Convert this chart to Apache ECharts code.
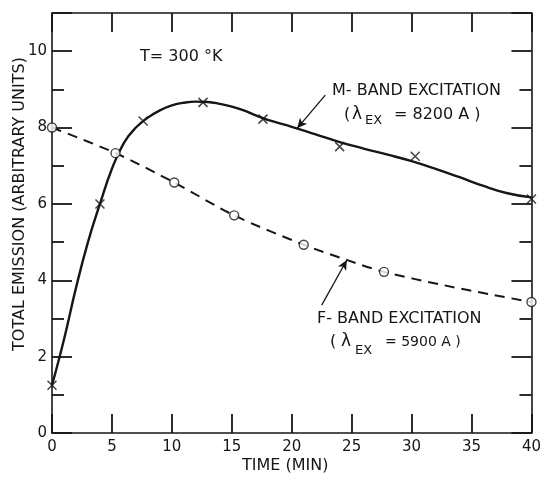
<!DOCTYPE html>
<html><head><meta charset="utf-8">
<script src="https://cdn.jsdelivr.net/npm/echarts@6/dist/echarts.min.js"></script>
<style>html,body{margin:0;padding:0;background:#fff}#c{width:544px;height:478px}</style>
</head><body><div id="c"></div>
<script>
// Data
const xTickLabels = ['0','5','10','15','20','25','30','35','40'];
const yTickLabels = ['0','2','4','6','8','10'];
// M-band excitation: measured points (crosses)
const mBandPoints = [[0,1.25],[4,6.0],[7.6,8.17],[12.6,8.66],[17.6,8.22],[24,7.5],[30.3,7.25],[40,6.13]];
// M-band fitted curve (solid)
const mBandCurve = [[0,1.25],[1,2.45],[2,3.8],[3,5.0],[4,6.0],[5,6.92],[6,7.6],[7,8.0],[8,8.26],[9,8.45],[10,8.58],[11,8.65],[12,8.68],[13,8.67],[14,8.62],[15,8.55],[16,8.45],[17,8.32],[18,8.2],[20,8.02],[22,7.82],[24,7.62],[26,7.45],[28,7.29],[30,7.12],[32,6.92],[34,6.7],[36,6.47],[38,6.28],[40,6.17]];
// F-band excitation: measured points (circles)
const fBandPoints = [[0,8.0],[5.3,7.33],[10.2,6.56],[15.2,5.7],[21,4.93],[27.7,4.22],[40,3.43]];
// F-band fitted curve (dashed)
const fBandCurve = [[0,8.0],[5.3,7.33],[10.2,6.56],[15.2,5.7],[21,4.93],[24.7,4.52],[27.7,4.22],[32.7,3.87],[36.9,3.61],[40,3.43]];
// annotation arrows [from, to] in data coords
const mArrow = [[22.8,8.85],[20.45,7.98]];
const fArrow = [[22.5,3.35],[24.6,4.53]];

const INK = '#161616';
const FONT = 'DejaVu Sans';
const chart = echarts.init(document.getElementById('c'), null, {renderer:'canvas'});

const xBase = {
  type:'value', min:0, max:40, interval:5,
  axisLine:{show:true, onZero:false, lineStyle:{color:INK, width:1.6}},
  axisTick:{show:true, inside:true, length:19, lineStyle:{color:INK, width:1.8}},
  splitLine:{show:false}
};
const yBase = {
  type:'value', min:0, max:11, interval:2,
  axisLine:{show:true, onZero:false, lineStyle:{color:INK, width:1.6}},
  axisTick:{show:true, inside:true, length:20, lineStyle:{color:INK, width:1.8}},
  minorTick:{show:true, splitNumber:2, length:12, lineStyle:{color:INK, width:1.8}},
  splitLine:{show:false}, minorSplitLine:{show:false}
};

function txt(x, y, s, size, extra) {
  return Object.assign({type:'text', x:x, y:y, style:{text:s, fill:INK, font: (size||16)+'px "'+FONT+'"', textVerticalAlign:'middle'}}, extra||{});
}

chart.setOption({
  animation:false,
  backgroundColor:'#fff',
  grid:{left:52, right:7, top:13, bottom:45},
  xAxis:[
    Object.assign({}, xBase, {position:'bottom',
      axisLabel:{show:true, margin:7, color:INK, fontFamily:FONT, fontSize:15,
        formatter:(v)=>xTickLabels[Math.round(v/5)]}}),
    Object.assign({}, xBase, {position:'top', axisLabel:{show:false}})
  ],
  yAxis:[
    Object.assign({}, yBase, {position:'left',
      axisLabel:{show:true, margin:5, color:INK, fontFamily:FONT, fontSize:15, showMaxLabel:false,
        formatter:(v)=> (v%2===0 && v<=10) ? yTickLabels[v/2] : ''}}),
    Object.assign({}, yBase, {position:'right', axisLabel:{show:false}})
  ],
  series:[
    {type:'line', data:mBandCurve, smooth:0.45, showSymbol:false, symbol:'none',
      lineStyle:{color:INK, width:2.4}, z:3},
    {type:'line', data:fBandCurve, smooth:0.3, showSymbol:false, symbol:'none',
      lineStyle:{color:INK, width:2, type:[10,7]}, z:3},
    {type:'scatter', data:mBandPoints, symbol:'path://M0,0L10,10M10,0L0,10', symbolSize:9,
      itemStyle:{color:'rgba(0,0,0,0)', borderColor:INK, borderWidth:1.5}, z:5,
      markLine:{silent:true, symbol:['none','arrow'], symbolSize:[7,10],
        label:{show:false}, lineStyle:{color:INK, width:1.3, type:'solid'},
        data:[[{coord:mArrow[0]},{coord:mArrow[1]}],[{coord:fArrow[0]},{coord:fArrow[1]}]]}},
    {type:'scatter', data:fBandPoints, symbol:'circle', symbolSize:9,
      itemStyle:{color:'#fff', borderColor:INK, borderWidth:1.4}, z:5}
  ],
  graphic:[
    txt(140, 57, 'T= 300 °K', 16),
    txt(332, 91, 'M- BAND EXCITATION', 16),
    txt(344, 115, '(', 16),
    txt(352, 115, 'λ', 17),
    txt(365, 121, 'EX', 13),
    txt(394, 115, '= 8200 A )', 16),
    txt(317, 319, 'F- BAND EXCITATION', 16),
    txt(330, 342, '(', 16),
    txt(341, 342, 'λ', 17),
    txt(355, 351, 'EX', 13),
    txt(385, 342, '= 5900 A )', 14),
    txt(242, 466, 'TIME (MIN)', 16),
    {type:'text', x:20, y:204, rotation:Math.PI/2,
      style:{text:'TOTAL EMISSION (ARBITRARY UNITS)', fill:INK, font:'16px "'+FONT+'"',
        textAlign:'center', textVerticalAlign:'middle'}}
  ]
});
</script></body></html>
